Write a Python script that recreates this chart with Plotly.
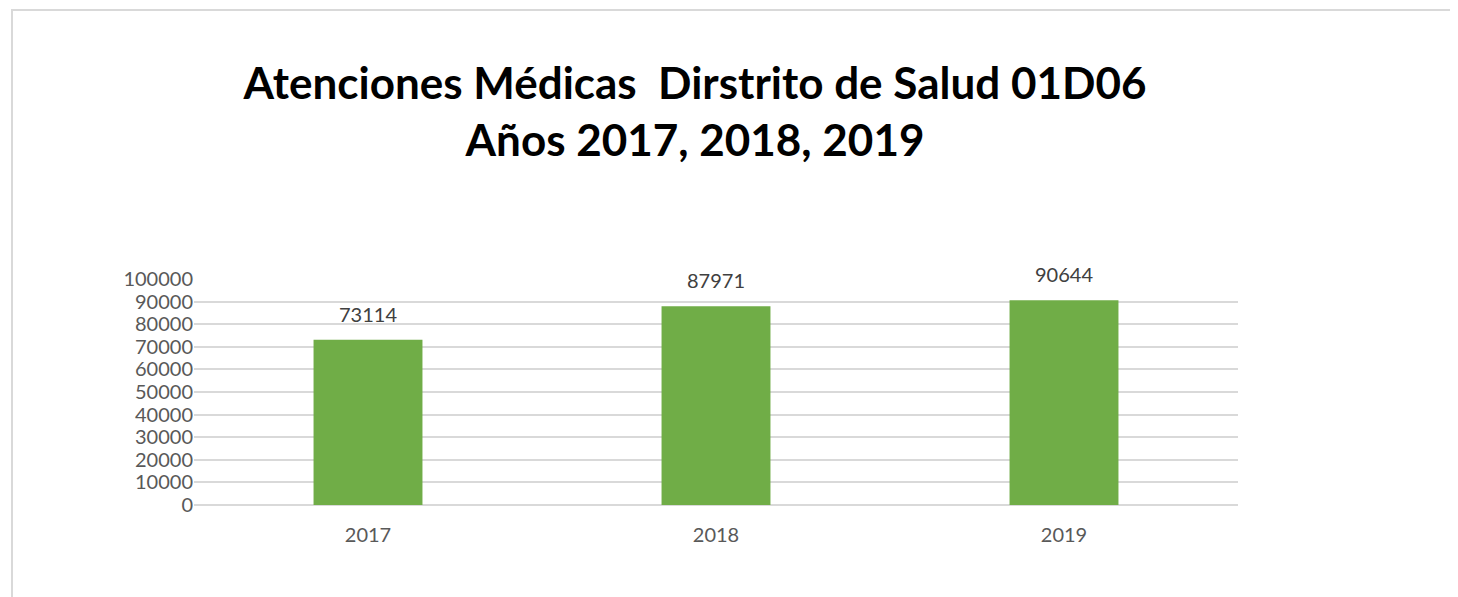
import plotly.graph_objects as go

years = ["2017", "2018", "2019"]
atenciones = [73114, 87971, 90644]
y_ticks = [0, 10000, 20000, 30000, 40000, 50000, 60000, 70000, 80000, 90000, 100000]

# page body has an 8px margin, so figure coords = screen coords - 8
OFF = 8
W, H = 1458 - OFF, 597 - OFF
L, R, T, B = 194 - OFF, W - (1238 - OFF), 279 - OFF, H - (505 - OFF)

fig = go.Figure()
fig.add_trace(go.Bar(
    x=years, y=atenciones,
    marker=dict(color="#70AD47", line=dict(width=0)),
    showlegend=False,
))

# data labels (category axis: annotation x is the category index)
for i, v in enumerate(atenciones):
    fig.add_annotation(x=i, y=v, text=str(v), showarrow=False,
                       xref="x", yref="y",
                       yanchor="bottom", yshift=12,
                       font=dict(family="Lato", size=20, color="#404040"))

pw = W - L - R
ph = H - T - B
def px_x(p):
    return (p - OFF - L) / pw
def px_y(p):
    return (H - B - (p - OFF)) / ph

fig.add_shape(type="rect", xref="paper", yref="paper",
              x0=px_x(12), x1=px_x(1480), y0=px_y(620), y1=px_y(10),
              line=dict(color="#D9D9D9", width=2), fillcolor="rgba(0,0,0,0)", layer="below")

fig.update_layout(
    width=W, height=H,
    margin=dict(l=L, r=R, t=T, b=B, autoexpand=False),
    paper_bgcolor="white", plot_bgcolor="white",
    bargap=0.687,
    showlegend=False,
    title=dict(
        text="<b>Atenciones Médicas  Dirstrito de Salud 01D06<br>Años 2017, 2018, 2019</b>",
        x=(695 - OFF) / W, xanchor="center", xref="container",
        y=1 - (99 - OFF) / H, yanchor="middle", yref="container",
        font=dict(family="Lato", size=44, color="#000000"),
    ),
    font=dict(family="Lato", size=20, color="#595959"),
    xaxis=dict(type="category", range=[-0.5, len(years) - 0.5],
               showgrid=False, showline=False, ticks="", zeroline=False,
               tickfont=dict(family="Lato", size=20, color="#595959"), ticklabelstandoff=16),
    yaxis=dict(range=[0, 100000], tickvals=y_ticks, ticktext=[str(v) for v in y_ticks],
               showgrid=True, gridcolor="#D9D9D9", gridwidth=2,
               zeroline=True, zerolinecolor="#D9D9D9", zerolinewidth=2,
               showline=False, ticks="",
               tickfont=dict(family="Lato", size=20, color="#595959")),
)

fig.write_html("out.html")
